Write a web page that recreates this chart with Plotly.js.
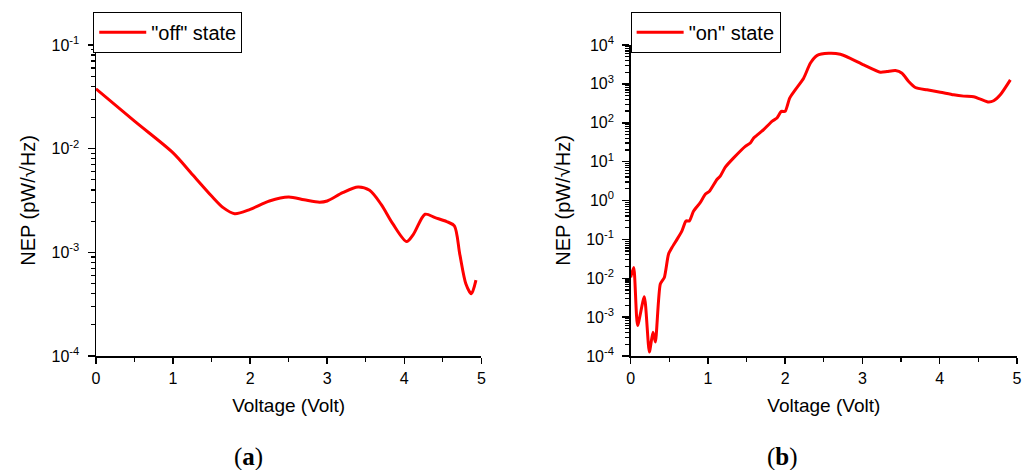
<!DOCTYPE html>
<html>
<head>
<meta charset="utf-8">
<script src="https://cdn.plot.ly/plotly-3.0.1.min.js"></script>
<style>html,body{margin:0;padding:0;background:#fff;}#chart{width:1030px;height:470px;}</style>
</head>
<body>
<div id="chart"></div>
<script>
// Panel (a): "off" state
const offVoltage = [0, 0.5, 1.0, 1.25, 1.5, 1.65, 1.8, 2.0, 2.25, 2.5, 2.7, 2.9, 3.0, 3.2, 3.4, 3.55, 3.7, 3.85, 4.03, 4.12, 4.27, 4.4, 4.55, 4.65, 4.72, 4.8, 4.87, 4.93];
const offNEP = [0.0378, 0.0184, 0.0091, 0.00564, 0.00349, 0.0027, 0.00236, 0.0026, 0.00313, 0.00342, 0.00322, 0.00305, 0.00313, 0.00376, 0.00427, 0.00396, 0.0029, 0.00189, 0.00127, 0.0015, 0.00233, 0.00216, 0.00198, 0.0018, 0.00096, 0.000495, 0.000398, 0.00054];

// Panel (b): "on" state
const onVoltage = [0, 0.04, 0.09, 0.177, 0.242, 0.289, 0.32, 0.384, 0.436, 0.49, 0.535, 0.6, 0.664, 0.716, 0.76, 0.815, 0.9, 0.966, 1.02, 1.117, 1.16, 1.225, 1.333, 1.484, 1.549, 1.592, 1.644, 1.721, 1.829, 1.894, 1.95, 2.0, 2.058, 2.13, 2.239, 2.325, 2.41, 2.563, 2.714, 2.843, 3.016, 3.231, 3.318, 3.426, 3.512, 3.598, 3.684, 3.835, 4.008, 4.18, 4.31, 4.439, 4.525, 4.633, 4.698, 4.784, 4.914];
const onNEP = [0.0105, 0.019, 0.00061, 0.00336, 0.000126, 0.00041, 0.00023, 0.0071, 0.0105, 0.0417, 0.0617, 0.1, 0.166, 0.298, 0.298, 0.537, 0.88, 1.44, 1.74, 3.48, 4.24, 7.2, 12.5, 24.8, 30.2, 40.6, 49.4, 66.4, 108.7, 132, 196, 196, 430, 703, 1400, 3390, 5330, 6110, 5770, 4550, 3080, 1995, 2075, 2200, 1880, 1150, 807, 703, 612, 523, 484, 466, 406, 340, 367, 524, 1268];

const offTickVals = [1e-4, 1e-3, 1e-2, 1e-1];
const offTickText = ['10<sup>-4</sup>', '10<sup>-3</sup>', '10<sup>-2</sup>', '10<sup>-1</sup>'];
const onTickVals = [1e-4, 1e-3, 1e-2, 1e-1, 1, 10, 100, 1e3, 1e4];
const onTickText = ['10<sup>-4</sup>', '10<sup>-3</sup>', '10<sup>-2</sup>', '10<sup>-1</sup>', '10<sup>0</sup>', '10<sup>1</sup>', '10<sup>2</sup>', '10<sup>3</sup>', '10<sup>4</sup>'];
const minorMultipliers = [2, 3, 4, 5, 6, 7, 8, 9];
const seriesNames = ['"off" state', '"on" state'];
const captions = ['(<b>a</b>)', '(<b>b</b>)'];

function minorTicks(majors) {
  const out = [];
  majors.slice(0, -1).forEach(function (m) { minorMultipliers.forEach(function (k) { out.push(m * k); }); });
  return out;
}

const FAM = 'Liberation Sans';
const traces = [
  {x: offVoltage, y: offNEP, type: 'scatter', mode: 'lines', name: seriesNames[0],
   line: {color: '#ff0000', width: 3, shape: 'spline', smoothing: 0.8}, xaxis: 'x', yaxis: 'y', legend: 'legend'},
  {x: onVoltage, y: onNEP, type: 'scatter', mode: 'lines', name: seriesNames[1],
   line: {color: '#ff0000', width: 3, shape: 'spline', smoothing: 0.6}, xaxis: 'x2', yaxis: 'y2', legend: 'legend2'}
];

function xax(domain, anchor) {
  return {domain: domain, anchor: anchor, range: [0, 5], dtick: 1, tick0: 0,
    showline: true, linecolor: '#000', linewidth: 1.5, mirror: false, zeroline: false, showgrid: false,
    ticks: 'outside', ticklen: 6, tickwidth: 1.5, tickcolor: '#000', ticklabelstandoff: 1,
    minor: {ticks: 'outside', ticklen: 4, tickwidth: 1.2, tickcolor: '#000', dtick: 0.5, showgrid: false},
    tickfont: {family: FAM, size: 16, color: '#000'},
    title: {text: 'Voltage (Volt)', font: {family: FAM, size: 19, color: '#000'}, standoff: 13}};
}
function yax(range, vals, text, anchor) {
  return {type: 'log', range: range, anchor: anchor, domain: [0, 1],
    showline: true, linecolor: '#000', linewidth: 1.5, zeroline: false, showgrid: false,
    tickmode: 'array', tickvals: vals, ticktext: text,
    ticks: 'outside', ticklen: 7, tickwidth: 1.5, tickcolor: '#000', ticklabelstandoff: 5,
    minor: {tickmode: 'array', tickvals: minorTicks(vals), ticks: 'outside', ticklen: 4, tickwidth: 1.2, tickcolor: '#000', showgrid: false},
    tickfont: {family: FAM, size: 16, color: '#000'},
    title: {text: 'NEP (pW/√Hz)', font: {family: FAM, size: 20, color: '#000'}, standoff: 10}};
}

const layout = {
  width: 1030, height: 470,
  margin: {l: 96, r: 13, t: 43, b: 114},
  paper_bgcolor: '#fff', plot_bgcolor: '#fff',
  font: {family: FAM, size: 16, color: '#000'},
  xaxis: xax([0, 0.4184], 'y'),
  yaxis: yax([-4, -1], offTickVals, offTickText, 'x'),
  xaxis2: xax([0.5805, 1], 'y2'),
  yaxis2: yax([-4, 4], onTickVals, onTickText, 'x2'),
  legend: {x: -0.003, y: 1.107, xanchor: 'left', yanchor: 'top', bordercolor: '#000', borderwidth: 1,
    bgcolor: '#fff', font: {family: FAM, size: 20, color: '#000'}, itemwidth: 47},
  legend2: {x: 0.5805, y: 1.107, xanchor: 'left', yanchor: 'top', bordercolor: '#000', borderwidth: 1,
    bgcolor: '#fff', font: {family: FAM, size: 20, color: '#000'}, itemwidth: 47},
  showlegend: true,
  annotations: [
    {text: captions[0], xref: 'paper', yref: 'paper', x: (248 - 96) / 921, y: (356 - 458) / 313,
     xanchor: 'center', yanchor: 'middle', showarrow: false,
     font: {family: 'Liberation Serif', size: 25, color: '#000'}},
    {text: captions[1], xref: 'paper', yref: 'paper', x: (782 - 96) / 921, y: (356 - 458) / 313,
     xanchor: 'center', yanchor: 'middle', showarrow: false,
     font: {family: 'Liberation Serif', size: 25, color: '#000'}}
  ]
};

Plotly.newPlot('chart', traces, layout, {staticPlot: true, displayModeBar: false});
</script>
</body>
</html>
